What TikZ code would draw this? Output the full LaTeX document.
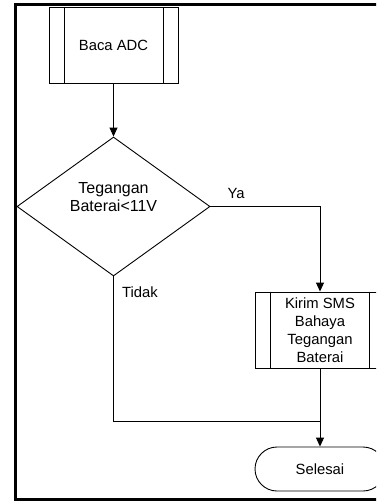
\documentclass[tikz,border=0pt]{standalone}
\usepackage{fontspec}
\setmainfont{Liberation Sans}
\usetikzlibrary{shapes.geometric,shapes.misc,arrows.meta}

\tikzset{
  every node/.style={font=\fontsize{14.8}{18}\selectfont, text=black},
  bigtext/.style={font=\fontsize{16}{18.5}\selectfont},
  flow/.style={draw=black, line width=0.9pt},
  subproc/.style={flow, rectangle, inner sep=0pt, align=center},
  decision/.style={flow, diamond, inner sep=0pt},
  terminal/.style={flow, rounded rectangle, inner sep=0pt},
  arrowline/.style={draw=black, line width=0.9pt, -{Triangle[length=9pt,width=8pt]}},
  plainline/.style={draw=black, line width=0.9pt},
  frame/.style={draw=black, line width=3pt},
}

\begin{document}
\begin{tikzpicture}[x=1pt,y=-1pt]
  \useasboundingbox (0,0) rectangle (376,503);
  \clip (0,0) rectangle (376,503);

  % outer frame (right side runs past the page)
  \draw[frame] (400,5) -- (15,5) -- (15,499.5) -- (400,499.5);

  % predefined process: read ADC
  \node[subproc, minimum width=129pt, minimum height=76pt] (baca) at (113.5,45) {Baca ADC};
  \draw[plainline] ([xshift=16pt]baca.north west) -- ([xshift=16pt]baca.south west);
  \draw[plainline] ([xshift=-15pt]baca.north east) -- ([xshift=-15pt]baca.south east);

  % decision on battery voltage
  \node[decision, minimum width=193pt, minimum height=139pt] (cek) at (113.5,206.5) {};
  \node[bigtext, align=center, inner sep=0pt] (cektext) at (113.5,197) {Tegangan\\Baterai<11V};

  % predefined process: send warning SMS
  \node[subproc, minimum width=130pt, minimum height=76pt] (kirim) at (320,330)
    {Kirim SMS\\Bahaya\\Tegangan\\Baterai};
  \draw[plainline] ([xshift=16pt]kirim.north west) -- ([xshift=16pt]kirim.south west);
  \draw[plainline] ([xshift=-16pt]kirim.north east) -- ([xshift=-16pt]kirim.south east);

  % end terminal
  \node[terminal, minimum width=130pt, minimum height=44pt] (selesai) at (320,469) {Selesai};

  % merge point above the terminal
  \coordinate (gabung) at (320,421);

  % connectors
  \draw[arrowline] (cek.east) -| (kirim.north);
  \node[inner sep=0pt] (ya) at (236,193) {Ya};
  \draw[arrowline] (baca.south) -- (cek.north);
  \draw[plainline] (cek.south) |- (gabung);
  \draw[plainline] (kirim.south) -- (gabung);
  \draw[arrowline] (gabung) -- (selesai.north);
  \node[anchor=west, inner sep=0pt] (tidak) at (122,292) {Tidak};
\end{tikzpicture}
\end{document}
